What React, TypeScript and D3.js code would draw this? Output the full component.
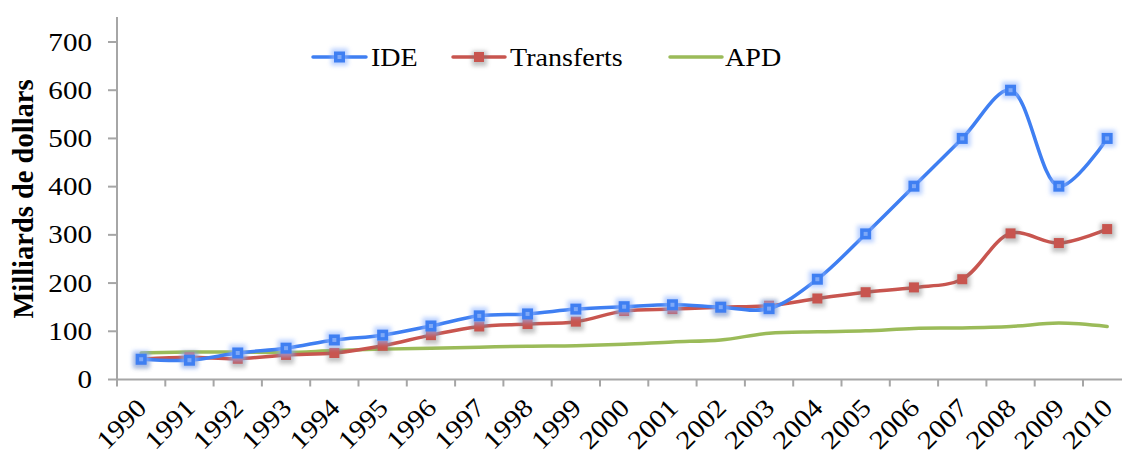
import * as d3 from "d3";

const years = [
  "1990", "1991", "1992", "1993", "1994", "1995", "1996", "1997", "1998", "1999", "2000",
  "2001", "2002", "2003", "2004", "2005", "2006", "2007", "2008", "2009", "2010",
];
const ide = [42, 40, 55, 65, 82, 92, 111, 132, 136, 146, 151, 155, 150, 147, 208, 302, 401, 500, 600, 401, 500];
const transferts = [42, 46, 43, 51, 55, 70, 92, 110, 115, 120, 142, 146, 150, 153, 168, 181, 191, 208, 303, 283, 312];
const apd = [55, 57, 57, 56, 60, 63, 65, 67, 69, 70, 73, 78, 82, 96, 99, 101, 106, 107, 110, 117, 110];
const yTicks = [0, 100, 200, 300, 400, 500, 600, 700];

const W = 1122;
const H = 455;
const X0 = 117;
const BAND = 48.3;
const Y_BOTTOM = 379.5;
const Y_TOP = 42;
const FONT = "'Liberation Serif', 'Times New Roman', serif";

const BLUE = "#3f7ff2";
const RED = "#c8554f";
const GREEN = "#9bbb59";
const AXIS = "#a6a6a6";

export default function App() {
  const x = d3.scaleBand<string>().domain(years).range([X0, X0 + BAND * years.length]);
  const y = d3.scaleLinear().domain([0, 700]).range([Y_BOTTOM, Y_TOP]);
  const cx = (yr: string) => (x(yr) ?? 0) + x.bandwidth() / 2;

  const line = d3
    .line<number>()
    .x((_, i) => cx(years[i]))
    .y((d) => y(d))
    .curve(d3.curveCatmullRom.alpha(0.5));

  const series = [
    { name: "IDE", values: ide, color: BLUE, marker: "square" },
    { name: "Transferts", values: transferts, color: RED, marker: "dot" },
    { name: "APD", values: apd, color: GREEN, marker: "none" },
  ];

  const legend = [
    { name: "IDE", color: BLUE, x1: 313, x2: 366, tx: 371, marker: "square" },
    { name: "Transferts", color: RED, x1: 453, x2: 505, tx: 510, marker: "dot" },
    { name: "APD", color: GREEN, x1: 670, x2: 722, tx: 725, marker: "none" },
  ];

  const marker = (kind: string, px: number, py: number, color: string, key: string) => {
    if (kind === "none") return null;
    if (kind === "square") {
      return (
        <g key={key}>
          <rect x={px - 8.5} y={py - 8.5} width={17} height={17} fill="#8fb4ff" opacity={0.6} filter="url(#glow)" />
          <rect x={px - 5.5} y={py - 5.5} width={11} height={11} fill={color} />
          <rect x={px - 2} y={py - 2} width={4} height={4} fill="#7fa9f7" />
        </g>
      );
    }
    return (
      <g key={key}>
        <rect x={px - 7} y={py - 6} width={15} height={15} fill="#777" opacity={0.45} filter="url(#glow)" />
        <rect x={px - 5} y={py - 5} width={10} height={10} fill={color} />
      </g>
    );
  };

  return (
    <svg
      width={W}
      height={H}
      viewBox={`0 0 ${W} ${H}`}
      style={{ position: "absolute", left: 0, top: 0, background: "#fff" }}
    >
      <defs>
        <filter id="glow" x="-50%" y="-50%" width="200%" height="200%">
          <feGaussianBlur stdDeviation="2.2" />
        </filter>
      </defs>
      <rect width={W} height={H} fill="#fff" />

      {/* y axis */}
      <line x1={X0} x2={X0} y1={17} y2={Y_BOTTOM} stroke={AXIS} strokeWidth={2} />
      {yTicks.map((t) => (
        <g key={t}>
          <line x1={108} x2={X0} y1={y(t)} y2={y(t)} stroke={AXIS} strokeWidth={2} />
          <text
            transform={`translate(92,${y(t) + 8.5}) scale(1.12,1)`}
            textAnchor="end"
            fontFamily={FONT}
            fontSize={26}
            fill="#000"
          >
            {t}
          </text>
        </g>
      ))}
      <text
        transform={`translate(33,199) rotate(-90)`}
        textAnchor="middle"
        fontFamily={FONT}
        fontSize={28.5}
        fontWeight="bold"
        fill="#000"
      >
        Milliards de dollars
      </text>

      {/* x axis */}
      <line x1={X0} x2={X0 + BAND * years.length} y1={Y_BOTTOM} y2={Y_BOTTOM} stroke={AXIS} strokeWidth={2} />
      {years.map((yr) => (
        <line
          key={"t" + yr}
          x1={x(yr) ?? 0}
          x2={x(yr) ?? 0}
          y1={Y_BOTTOM}
          y2={Y_BOTTOM + 7}
          stroke={AXIS}
          strokeWidth={2}
        />
      ))}
      {years.map((yr) => (
        <text
          key={"l" + yr}
          transform={`translate(${cx(yr) + 7},${Y_BOTTOM + 30}) rotate(-45) scale(1.12,1)`}
          textAnchor="end"
          fontFamily={FONT}
          fontSize={26}
          fill="#000"
        >
          {yr}
        </text>
      ))}

      {/* series */}
      {series
        .slice()
        .reverse()
        .map((s) => (
          <g key={s.name}>
            <path d={line(s.values) ?? ""} fill="none" stroke={s.color} strokeWidth={3.5} strokeLinecap="round" />
            {s.values.map((v, i) => marker(s.marker, cx(years[i]), y(v), s.color, s.name + i))}
          </g>
        ))}

      {/* legend */}
      {legend.map((l) => (
        <g key={"lg" + l.name}>
          <line x1={l.x1} x2={l.x2} y1={57} y2={57} stroke={l.color} strokeWidth={3.5} strokeLinecap="round" />
          {marker(l.marker, (l.x1 + l.x2) / 2, 57, l.color, "lm" + l.name)}
          <text
            transform={`translate(${l.tx},66) scale(1.08,1)`}
            fontFamily={FONT}
            fontSize={26}
            fill="#000"
          >
            {l.name}
          </text>
        </g>
      ))}
    </svg>
  );
}
